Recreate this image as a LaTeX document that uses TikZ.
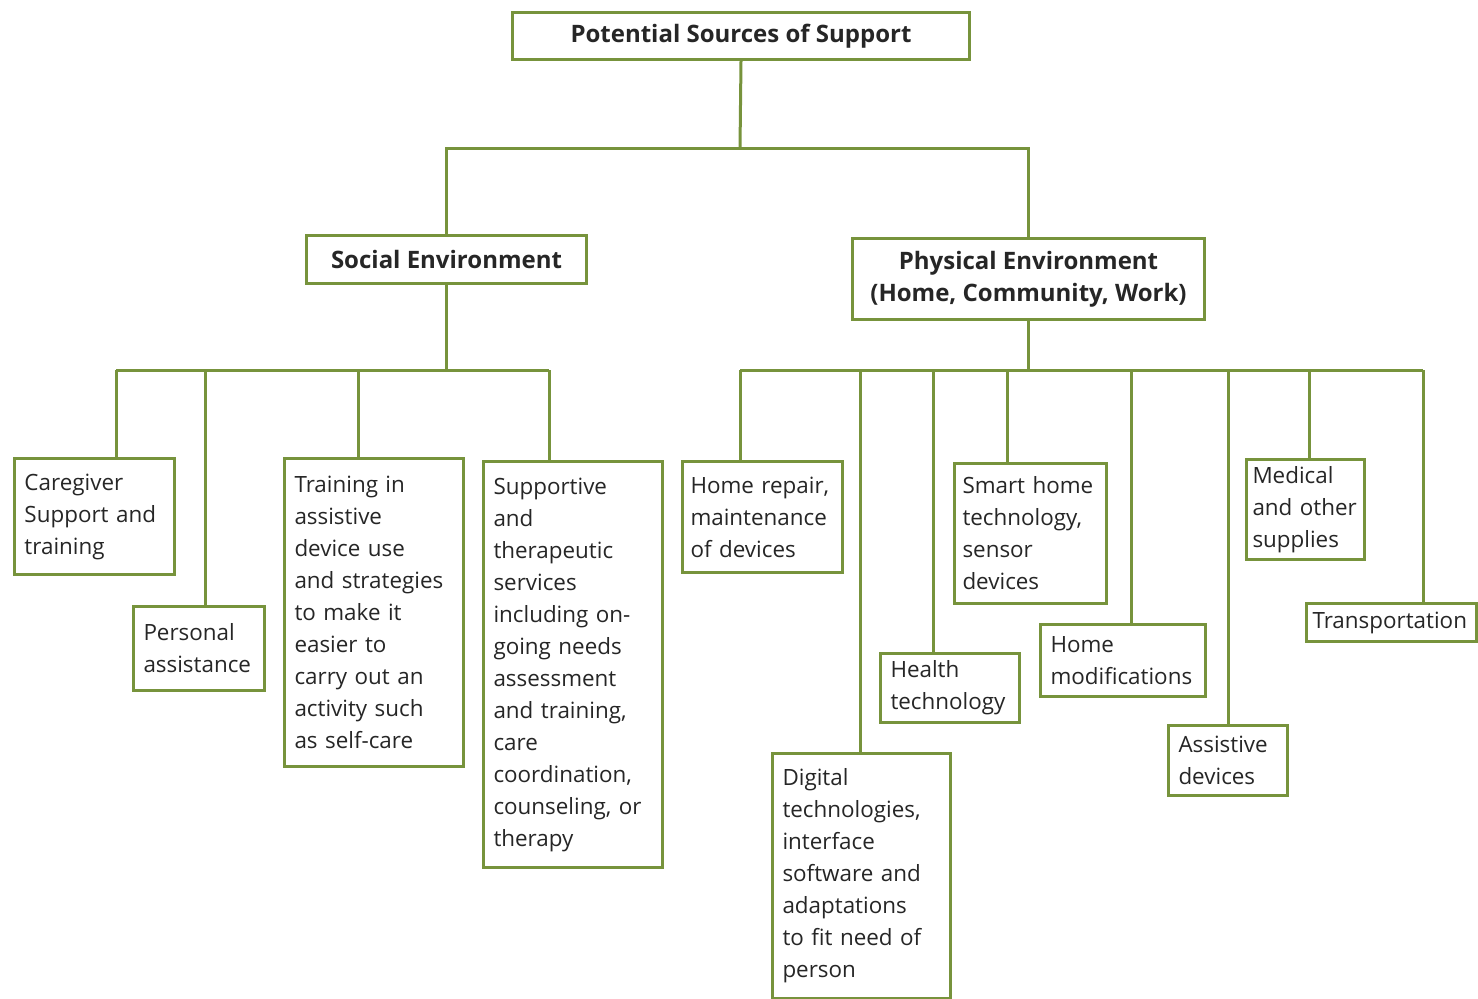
\documentclass[tikz,border=0pt]{standalone}
\usepackage{fontspec}
\setmainfont{Open Sans}
\definecolor{leafgreen}{HTML}{77933C}

\tikzstyle{block} = [rectangle, draw=leafgreen, line width=1.5pt, fill=white, inner xsep=5pt, inner ysep=3pt, align=left, anchor=north west, text=black!85, font=\fontsize{11.2}{16}\selectfont]
\tikzstyle{head} = [block, align=center, font=\fontsize{12}{16}\selectfont\bfseries]
\tikzstyle{link} = [draw=leafgreen, line width=1.5pt]

\begin{document}
\begin{tikzpicture}[x=0.5pt, y=-0.5pt]
        \useasboundingbox (0,0) rectangle (1478,998);
        % top levels
        \node (top) at (511,11) [head, minimum width=228.5pt, minimum height=23.5pt] {Potential Sources of Support};
        \node (soc) at (305,234) [head, minimum width=140pt, minimum height=24pt] {Social Environment};
        \node (phys) at (851,237) [head, minimum width=176pt, minimum height=40.5pt] {Physical Environment\\(Home, Community, Work)};
        % social environment
        \node (care) at (13,457) [block, text width=70pt, minimum height=58pt] {Caregiver\\Support and\\training};
        \node (pers) at (132,605) [block, text width=55.5pt, minimum height=42pt] {Personal\\assistance};
        \node (train) at (283,457) [block, text width=79.5pt, minimum height=154pt] {Training in\\assistive\\device use\\and strategies\\to make it\\easier to\\carry out an\\activity such\\as self-care};
        \node (supp) at (482,460) [block, text width=79.5pt, minimum height=203pt] {Supportive\\and\\therapeutic\\services\\including on-\\going needs\\assessment\\and training,\\care\\coordination,\\counseling, or\\therapy};
        % physical environment
        \node (repair) at (681,460) [block, inner xsep=4pt, text width=72pt, minimum height=55.5pt] {Home repair,\\maintenance\\of devices};
        \node (digital) at (771,752) [block, text width=79pt, minimum height=122.5pt] {Digital\\technologies,\\interface\\software and\\adaptations\\to fit need of\\person};
        \node (health) at (879,652) [block, text width=59.5pt, minimum height=34.5pt] {Health\\technology};
        \node (smart) at (953,462) [block, inner xsep=4pt, text width=68pt, minimum height=70pt] {Smart home\\technology,\\sensor\\devices};
        \node (homemod) at (1039,623) [block, text width=72.5pt, minimum height=36pt] {Home\\modifications};
        \node (assist) at (1167,724) [block, text width=49.5pt, minimum height=35pt] {Assistive\\devices};
        \node (medical) at (1245,458) [block, inner xsep=3pt, text width=53pt, minimum height=50pt] {Medical\\and other\\supplies};
        \node (transp) at (1305,602) [block, inner xsep=3pt, text width=79pt, minimum height=19pt] {Transportation};
        % bus points
        \coordinate (hub) at (740,148);
        \coordinate (s1) at (116,370);
        \coordinate (s2) at (205,370);
        \coordinate (s3) at (358,370);
        \coordinate (s4) at (549,370);
        \coordinate (p1) at (740,370);
        \coordinate (p2) at (860,370);
        \coordinate (p3) at (933,370);
        \coordinate (p4) at (1007,370);
        \coordinate (p5) at (1131,370);
        \coordinate (p6) at (1228,370);
        \coordinate (p7) at (1309,370);
        \coordinate (p8) at (1423,370);
        % connectors
        \draw[link] (top.south) -- (hub);
        \draw[link] (soc.north) |- (hub) -| (phys.north);
        \draw[link] (soc.south) -- (soc.south |- s1);
        \draw[link] (s1) -- (s4);
        \draw[link] (phys.south) -- (phys.south |- p1);
        \draw[link] (p1) -- (p8);
        \draw[link] (s1) -- (s1 |- care.north);
        \draw[link] (s2) -- (s2 |- pers.north);
        \draw[link] (s3) -- (s3 |- train.north);
        \draw[link] (s4) -- (s4 |- supp.north);
        \draw[link] (p1) -- (p1 |- repair.north);
        \draw[link] (p2) -- (p2 |- digital.north);
        \draw[link] (p3) -- (p3 |- health.north);
        \draw[link] (p4) -- (p4 |- smart.north);
        \draw[link] (p5) -- (p5 |- homemod.north);
        \draw[link] (p6) -- (p6 |- assist.north);
        \draw[link] (p7) -- (p7 |- medical.north);
        \draw[link] (p8) -- (p8 |- transp.north);
\end{tikzpicture}
\end{document}
